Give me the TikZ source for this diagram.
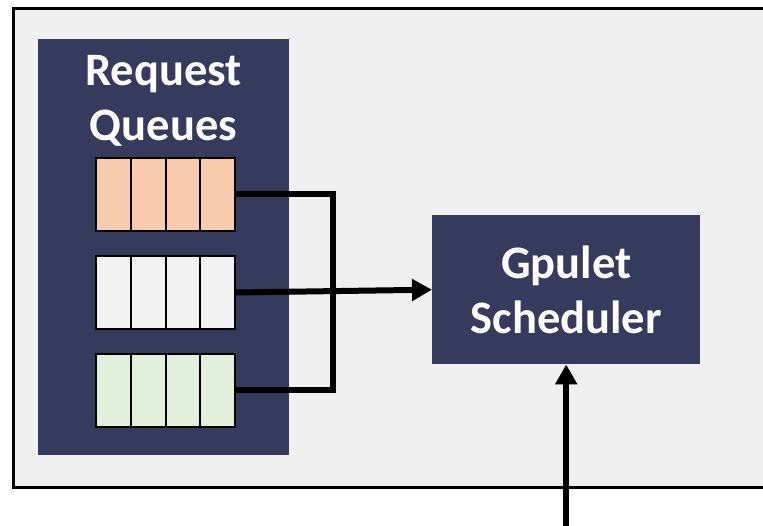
\documentclass[tikz,border=0pt]{standalone}
\usepackage{fontspec}
\setmainfont{Carlito}
\usetikzlibrary{arrows.meta}
\definecolor{panelnavy}{RGB}{54,59,94}
\definecolor{canvasgray}{RGB}{240,240,240}
\definecolor{qpeach}{RGB}{248,203,173}
\definecolor{qgray}{RGB}{242,242,242}
\definecolor{qgreen}{RGB}{226,239,218}
\tikzset{
  navybox/.style={fill=panelnavy, draw=none, inner sep=0pt, text=white,
    font=\fontsize{46.5}{55}\selectfont\bfseries, align=center},
  queue/.style={draw=black, line width=2pt, minimum width=139pt,
    minimum height=73pt, inner sep=0pt, fill=#1,
    path picture={
      \foreach \k in {1,2,3}
        \draw[line width=2pt] ([xshift=\k*34.75pt]path picture bounding box.south west)
          -- ([xshift=\k*34.75pt]path picture bounding box.north west);
    }},
  wire/.style={line width=6pt, line join=miter},
  flow/.style={wire, -{Triangle[length=20pt,width=21pt]}}
}
\begin{document}
\begin{tikzpicture}[x=1pt,y=-1pt]
  \useasboundingbox (0,0) rectangle (763,526);
  % outer frame, running off the right edge
  \begin{scope}
    \clip (0,0) rectangle (763,526);
    \draw[fill=canvasgray, line width=3.5pt] (13.5,8.5) rectangle (800,487.5);
  \end{scope}
  % request queue panel
  \node[navybox, minimum width=251pt, minimum height=416pt, anchor=north west]
    (panel) at (38,39) {};
  \node[navybox, fill=none, anchor=base] (title) at (163.5,141) {Request\\Queues};
  \node[queue=qpeach, anchor=north west] (q1) at (95,157) {};
  \node[queue=qgray,  anchor=north west] (q2) at (95,255) {};
  \node[queue=qgreen, anchor=north west] (q3) at (95,353) {};
  % scheduler
  \node[navybox, minimum width=268pt, minimum height=149pt, anchor=north west]
    (sched) at (432,215) {Gpulet\\Scheduler};
  \coordinate (bus) at (333,0);
  \coordinate (feed) at (sched.south |- 0,530);
  % queue connections
  \draw[wire] (q1.east) -- (q1.east -| bus) -- (q3.east -| bus) -- (q3.east);
  \draw[flow] (q2.east) -- (sched.west);
  \draw[flow] (feed) -- (sched.south);
\end{tikzpicture}
\end{document}
